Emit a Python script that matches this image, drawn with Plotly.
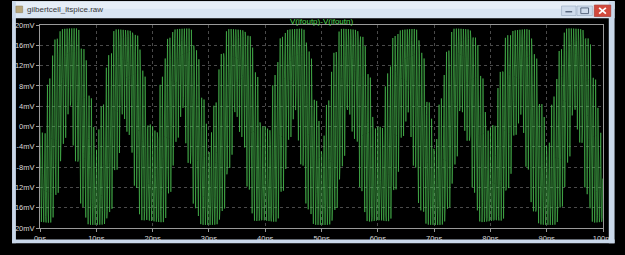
import numpy as np
import plotly.graph_objects as go

# ---- data ----
t_start_ns = 0.0
t_stop_ns = 100.0
# Gilbert-cell IF output: RF tone switched by the LO (IF beat = rf - lo = 100 MHz)
rf_ghz = 1.2
lo_ghz = 1.1
rf_amp_mV = 19.4
rf_phase_rad = -3.2
lo_sharpness = 5.0
sim_step_ns = 0.083

y_tick_vals = [20, 16, 12, 8, 4, 0, -4, -8, -12, -16, -20]
y_tick_text = ["20mV", "16mV", "12mV", "8mV", "4mV", "0mV", "-4mV", "-8mV", "-12mV", "-16mV", "-20mV"]
x_tick_vals = [0, 10, 20, 30, 40, 50, 60, 70, 80, 90, 100]
x_tick_text = ["0ns", "10ns", "20ns", "30ns", "40ns", "50ns", "60ns", "70ns", "80ns", "90ns", "100ns"]

trace_name = "V(ifoutp)-V(ifoutn)"
window_title = "gilbertcell_ltspice.raw"

# ---- build trace ----
t = np.arange(t_start_ns, t_stop_ns + 1e-9, sim_step_ns)
lo = np.tanh(lo_sharpness * np.sin(2 * np.pi * lo_ghz * t)) / np.tanh(lo_sharpness)
v = rf_amp_mV * np.sin(2 * np.pi * rf_ghz * t + rf_phase_rad) * lo

fig = go.Figure()
fig.add_trace(go.Scatter(x=t, y=v, mode="lines",
                         line=dict(color="rgb(78,200,84)", width=0.6),
                         hoverinfo="skip", showlegend=False))

W, H = 625, 255
L, R, T, B = 29, 12, 25, 16
pw, ph = W - L - R, H - T - B


def px(x):
    return (x - L) / pw


def py(y):
    return (H - B - y) / ph


shapes = []
border = "#c9d8ea"
# title bar
shapes.append(dict(type="rect", xref="paper", yref="paper", x0=px(0), x1=px(625), y0=py(18), y1=py(0),
                   fillcolor="#d9e5f2", line_width=0, layer="above"))
shapes.append(dict(type="rect", xref="paper", yref="paper", x0=px(0), x1=px(625), y0=py(8), y1=py(0),
                   fillcolor="#e6eef7", line_width=0, layer="above"))
# window borders
shapes.append(dict(type="rect", xref="paper", yref="paper", x0=px(0), x1=px(4), y0=py(255), y1=py(0),
                   fillcolor=border, line_width=0, layer="above"))
shapes.append(dict(type="rect", xref="paper", yref="paper", x0=px(619), x1=px(625), y0=py(255), y1=py(0),
                   fillcolor=border, line_width=0, layer="above"))
shapes.append(dict(type="rect", xref="paper", yref="paper", x0=px(0), x1=px(625), y0=py(255), y1=py(251),
                   fillcolor=border, line_width=0, layer="above"))
# icon
shapes.append(dict(type="rect", xref="paper", yref="paper", x0=px(4), x1=px(11), y0=py(12), y1=py(5),
                   fillcolor="#b9a77a", line=dict(color="#8a7a55", width=0.5), layer="above"))
# buttons
shapes.append(dict(type="rect", xref="paper", yref="paper", x0=px(570), x1=px(585), y0=py(15), y1=py(5),
                   fillcolor="#cfdcec", line=dict(color="#9fb0c6", width=0.7), layer="above"))
shapes.append(dict(type="rect", xref="paper", yref="paper", x0=px(586), x1=px(602), y0=py(15), y1=py(5),
                   fillcolor="#cfdcec", line=dict(color="#9fb0c6", width=0.7), layer="above"))
shapes.append(dict(type="rect", xref="paper", yref="paper", x0=px(604), x1=px(621), y0=py(16), y1=py(4),
                   fillcolor="#d2493c", line=dict(color="#a8372e", width=0.7), layer="above"))
shapes.append(dict(type="line", xref="paper", yref="paper", x0=px(574), x1=px(581), y0=py(11), y1=py(11),
                   line=dict(color="#5a6a80", width=1.5), layer="above"))
shapes.append(dict(type="rect", xref="paper", yref="paper", x0=px(590), x1=px(598), y0=py(13), y1=py(7),
                   line=dict(color="#5a6a80", width=1), layer="above"))
shapes.append(dict(type="line", xref="paper", yref="paper", x0=px(609), x1=px(616), y0=py(13), y1=py(7),
                   line=dict(color="white", width=1.8), layer="above"))
shapes.append(dict(type="line", xref="paper", yref="paper", x0=px(609), x1=px(616), y0=py(7), y1=py(13),
                   line=dict(color="white", width=1.8), layer="above"))

annotations = [
    dict(text=trace_name, xref="paper", yref="paper", x=0.5, y=py(21.5), showarrow=False,
         font=dict(family="Liberation Sans, Arial", size=8, color="#55d955"), xanchor="center", yanchor="middle"),
    dict(text=window_title, xref="paper", yref="paper", x=px(13), y=py(9), showarrow=False,
         font=dict(family="Liberation Sans, Arial", size=8, color="#3a3a3a"), xanchor="left", yanchor="middle"),
]

axis_font = dict(family="Liberation Sans, Arial", size=7.5, color="#d8d8d8")
fig.update_layout(
    width=W, height=H,
    margin=dict(l=L, r=R, t=T, b=B),
    paper_bgcolor="black", plot_bgcolor="black",
    shapes=shapes, annotations=annotations,
    xaxis=dict(range=[0, 100], tickvals=x_tick_vals, ticktext=x_tick_text,
               showgrid=True, gridcolor="#4a4a4a", griddash="dot", gridwidth=1,
               showline=True, linecolor="#9a9a9a", linewidth=1, mirror=True,
               ticks="outside", ticklen=3, tickcolor="#9a9a9a",
               tickfont=axis_font, zeroline=False, fixedrange=True),
    yaxis=dict(range=[-20, 20], tickvals=y_tick_vals, ticktext=y_tick_text,
               showgrid=True, gridcolor="#4a4a4a", griddash="dot", gridwidth=1,
               showline=True, linecolor="#9a9a9a", linewidth=1, mirror=True,
               ticks="outside", ticklen=3, tickcolor="#9a9a9a",
               tickfont=axis_font, zeroline=False, fixedrange=True),
)

fig.write_html("out.html", config={"displayModeBar": False})
